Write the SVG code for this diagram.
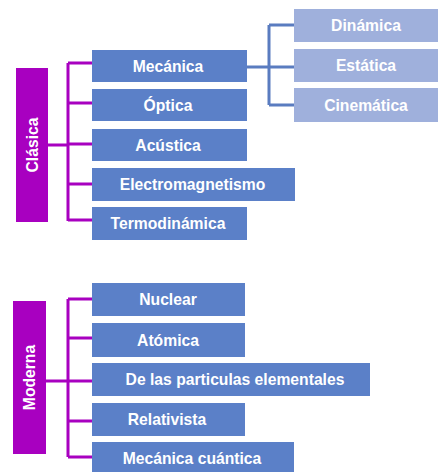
<svg xmlns="http://www.w3.org/2000/svg" width="438" height="472" viewBox="0 0 438 472">
<style>
.n{fill:#5B80C8}
.l{fill:#9FB0DC}
.c{fill:#A800C0}
.t{font-family:"Liberation Sans",Arial,sans-serif;font-weight:bold;font-size:15.7px;fill:#fff;text-anchor:middle;dominant-baseline:central}
.m{stroke:#A800C0;stroke-width:3;fill:none}
.b{stroke:#5A7CC0;stroke-width:3;fill:none}
</style>
<rect width="438" height="472" fill="#fff"/>
<g id="connectors">
<path class="m" d="M48 145H68M68 63V221M68 63H92M68 103H92M68 144H92M68 184H92M68 220H92"/>
<path class="m" d="M46 381H68M68 299V457M68 299H92M68 338H92M68 381H92M68 421H92M68 457H92"/>
<path class="b" d="M247 67H294M269 25V105M269 25H294M269 105H294"/>
</g>
<g id="clasica"><rect class="c" x="16" y="68" width="32" height="154"/><text class="t" transform="translate(32 145) rotate(-90)">Clásica</text></g>
<g id="mecanica"><rect class="n" x="92" y="50" width="155" height="32"/><text class="t" x="168" y="66">Mecánica</text></g>
<g id="optica"><rect class="n" x="92" y="89" width="155" height="32"/><text class="t" x="168" y="105">Óptica</text></g>
<g id="acustica"><rect class="n" x="92" y="129" width="155" height="32"/><text class="t" x="168" y="145">Acústica</text></g>
<g id="electromagnetismo"><rect class="n" x="92" y="168" width="203" height="33"/><text class="t" x="192.5" y="184.5">Electromagnetismo</text></g>
<g id="termodinamica"><rect class="n" x="92" y="207" width="155" height="33"/><text class="t" x="168" y="223.5">Termodinámica</text></g>
<g id="dinamica"><rect class="l" x="294" y="9" width="144" height="33"/><text class="t" x="366" y="25.5">Dinámica</text></g>
<g id="estatica"><rect class="l" x="294" y="49" width="144" height="33"/><text class="t" x="366" y="65.5">Estática</text></g>
<g id="cinematica"><rect class="l" x="294" y="88" width="144" height="34"/><text class="t" x="366" y="105">Cinemática</text></g>
<g id="moderna"><rect class="c" x="13" y="301" width="33" height="153"/><text class="t" transform="translate(29.5 377.5) rotate(-90)">Moderna</text></g>
<g id="nuclear"><rect class="n" x="92" y="283" width="153" height="33"/><text class="t" x="168" y="299.5">Nuclear</text></g>
<g id="atomica"><rect class="n" x="92" y="323" width="153" height="34"/><text class="t" x="168" y="340">Atómica</text></g>
<g id="particulas"><rect class="n" x="92" y="363" width="278" height="33"/><text class="t" x="235" y="379.5">De las particulas elementales</text></g>
<g id="relativista"><rect class="n" x="92" y="403" width="153" height="33"/><text class="t" x="167" y="419.5">Relativista</text></g>
<g id="cuantica"><rect class="n" x="92" y="442" width="202" height="32"/><text class="t" x="192" y="458">Mecánica cuántica</text></g>
</svg>
